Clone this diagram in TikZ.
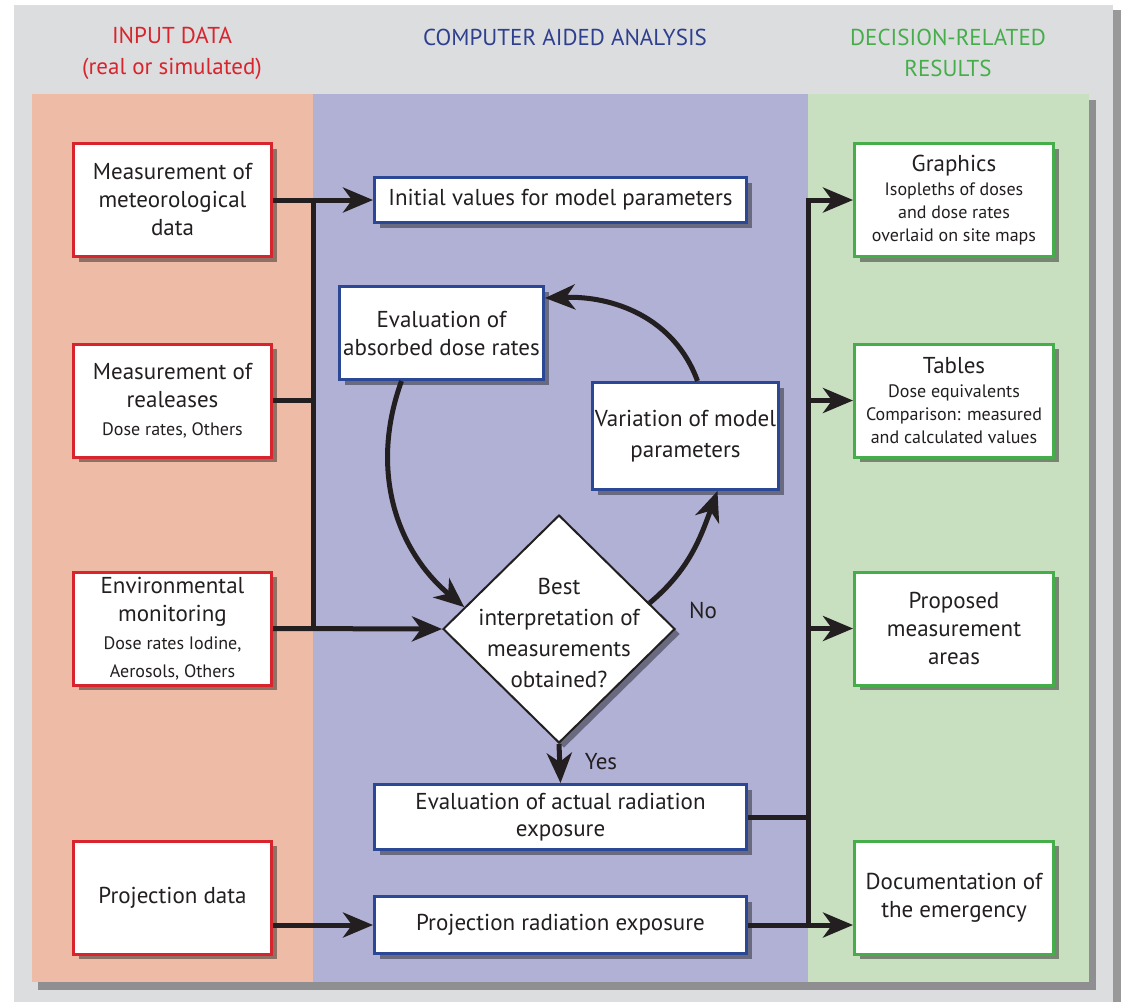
\documentclass[tikz,border=0pt]{standalone}
\usepackage{fontspec}
\setmainfont{PT Sans}
\usetikzlibrary{shapes.geometric,shadows,arrows.meta}

\definecolor{panelgray}{HTML}{DCDDDF}
\definecolor{bandred}{HTML}{EEBBA7}
\definecolor{bandblue}{HTML}{B0B1D5}
\definecolor{bandgreen}{HTML}{C8DFC0}
\definecolor{linered}{HTML}{D8242C}
\definecolor{lineblue}{HTML}{2B4897}
\definecolor{linegreen}{HTML}{45AE4A}
\definecolor{headblue}{HTML}{2E3F8F}
\definecolor{inkblack}{HTML}{231F20}

\newcommand{\smalltxt}[1]{{\fontsize{18}{23}\selectfont #1}}

\tikzset{
  bigfont/.style={font=\fontsize{23}{28}\selectfont},
  box/.style={bigfont, draw, line width=3pt, fill=white, align=center, inner sep=2pt,
    text=inkblack, drop shadow={shadow xshift=5pt, shadow yshift=-5pt, opacity=.4, fill=black}},
  inbox/.style={box, draw=linered, minimum width=198, minimum height=113},
  calcbox/.style={box, draw=lineblue},
  outbox/.style={box, draw=linegreen, minimum width=199, minimum height=113},
  flow/.style={line width=5pt, draw=inkblack},
  flowarr/.style={flow, -{Stealth[length=30pt, width=25pt, inset=9pt]}},
  header/.style={font=\fontsize{23}{31}\selectfont, align=center}
}

\begin{document}
\begin{tikzpicture}[x=1pt, y=-1pt]

    \useasboundingbox (0,0) rectangle (1123,1002);
    \fill[white] (0,0) rectangle (1123,1002);

    % panel and the three bands
    \fill[black, opacity=.4] (20,10) rectangle (1121,1002);
    \fill[panelgray] (14,5) rectangle (1113,1002);
    \fill[black, opacity=.35] (38,100) rectangle (1096,990);
    \fill[bandred] (32,94) rectangle (313,982);
    \fill[bandblue] (313,94) rectangle (808,982);
    \fill[bandgreen] (808,94) rectangle (1089,982);

    \node[header, text=linered] (hin) at (172,53) {INPUT DATA\\(real or simulated)};
    \node[header, text=headblue] (hcalc) at (565,37) {COMPUTER AIDED ANALYSIS};
    \node[header, text=linegreen] (hres) at (948,53) {DECISION-RELATED\\RESULTS};

    % input data
    \node[inbox] (meteo) at (172.5,200) {Measurement of\\meteorological\\data};
    \node[inbox] (rel) at (172.5,400.5) {Measurement of\\realeases\\\smalltxt{Dose rates, Others}};
    \node[inbox] (env) at (172.5,628.5) {Environmental\\monitoring\\\smalltxt{Dose rates Iodine,}\\\smalltxt{Aerosols, Others}};
    \node[inbox] (projdat) at (172.5,897.5) {Projection data};

    % analysis
    \node[calcbox, minimum width=372, minimum height=45] (initval) at (560.5,200) {Initial values for model parameters};
    \node[calcbox, minimum width=204, minimum height=93] (evalabs) at (441.5,333) {Evaluation of\\absorbed dose rates};
    \node[calcbox, minimum width=186, minimum height=107, font=\fontsize{23}{31}\selectfont] (vary) at (685.5,436) {Variation of model\\parameters};
    \node[diamond, draw=inkblack, line width=2pt, fill=white, inner sep=0pt,
      minimum width=232, minimum height=228,
      drop shadow={shadow xshift=5pt, shadow yshift=-5pt, opacity=.4, fill=black}] (dec) at (559,629) {};
    \node[align=center, text=inkblack, font=\fontsize{23}{31}\selectfont] (dectext) at (559,633) {Best\\interpretation of\\measurements\\obtained?};
    \node[calcbox, minimum width=372, minimum height=65, font=\fontsize{23}{27}\selectfont] (evalact) at (560.5,817) {Evaluation of actual radiation\\exposure};
    \node[calcbox, minimum width=372, minimum height=57] (projexp) at (560.5,925) {Projection radiation exposure};

    % results
    \node[outbox] (graph) at (954,200) {Graphics\\[-4pt]\smalltxt{Isopleths of doses}\\[-5pt]\smalltxt{and dose rates}\\[-5pt]\smalltxt{overlaid on site maps}};
    \node[outbox] (tabl) at (954,400.5) {Tables\\[-4pt]\smalltxt{Dose equivalents}\\[-5pt]\smalltxt{Comparison: measured}\\[-5pt]\smalltxt{and calculated values}};
    \node[outbox] (propo) at (954,628.5) {Proposed\\measurement\\areas};
    \node[outbox] (docu) at (954,897.5) {Documentation of\\the emergency};

    \node[bigfont, text=inkblack] (yes) at (601,762) {Yes};
    \node[bigfont, text=inkblack] (no) at (703,610) {No};

    % left bus
    \coordinate (lbus) at (313,200);
    \draw[flowarr] (meteo.east) -- (initval.west);
    \draw[flow] (lbus) -- (lbus |- env.east);
    \draw[flow] (rel.east) -- (rel.east -| lbus);
    \draw[flowarr] (env.east) -- (dec.west);
    \draw[flowarr] (projdat.east |- projexp.west) -- (projexp.west);

    % loop round the decision
    \draw[flowarr] ([xshift=-40pt]evalabs.south) to[out=250, in=140] (dec.167);
    \draw[flowarr] (dec.16) to[out=40, in=250] ([xshift=32pt]vary.south);
    \draw[flowarr] ([xshift=12pt]vary.north) to[out=110, in=2] ([yshift=35pt]evalabs.east);
    \draw[flowarr] (dec.south) -- (evalact.north);

    % right bus
    \coordinate (rbus) at (808,200);
    \draw[flowarr] (rbus |- projexp.east) -- (rbus) -- (graph.west);
    \draw[flowarr] (rbus |- tabl.west) -- (tabl.west);
    \draw[flowarr] (rbus |- propo.west) -- (propo.west);
    \draw[flow] (evalact.east) -- (evalact.east -| rbus);
    \draw[flowarr] (projexp.east) -- (projexp.east -| docu.west);

\end{tikzpicture}
\end{document}
